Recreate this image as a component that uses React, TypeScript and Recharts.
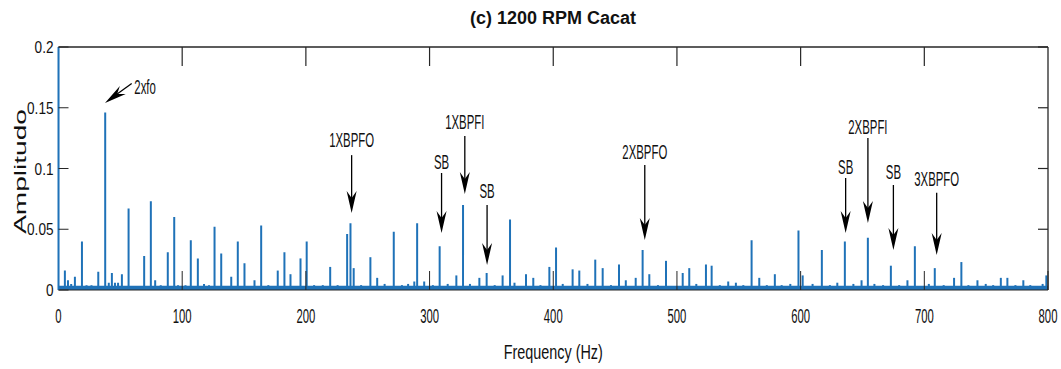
import React from 'react';
import { ComposedChart, Bar, XAxis, YAxis, ReferenceLine, ReferenceDot, ReferenceArea } from 'recharts';

// spectrum peaks (Hz, amplitude)
const peakFreq = [
  0, 5.5, 8, 10.6, 13.6, 19.3, 23, 27, 32.5, 38.1, 41, 43.5, 46, 48.5, 51.6, 57, 63, 69.6, 75, 78.5,
  83, 88.7, 93.9, 97, 103, 107.3, 113, 118, 122, 126.5, 131.9, 140, 145.3, 150.7, 158.8, 164.2, 170,
  177.6, 183, 187.9, 196, 201, 207, 214, 220, 226, 233.7, 236.4, 239, 245, 252.5, 258, 264, 271.4,
  278, 283, 288, 290.3, 296, 303, 308.5, 315, 322, 327.4, 333, 340.6, 346.5, 353, 359.4, 365.4, 369,
  378.3, 384.2, 390, 397.2, 402.6, 408, 416, 421.4, 428, 434.3, 440.3, 447, 453.5, 459, 467, 472.6,
  478, 485, 491.5, 505, 510.3, 516, 523.8, 528.4, 535, 541.8, 548, 554, 560.7, 566.9, 573, 579.5, 585,
  592, 598.6, 602, 610, 617.5, 624, 630, 636.1, 643, 649.6, 654.7, 660, 667, 673.3, 680, 686.7, 692.7,
  704, 708.8, 716, 724.4, 730.3, 736, 743.3, 750, 756, 762.2, 767.5, 774, 780.4, 786, 791, 796, 799,
];
const peakAmp = [
  0.2, 0.016, 0.008, 0.005, 0.011, 0.04, 0.004, 0.004, 0.015, 0.146, 0.006, 0.014, 0.006, 0.006, 0.013, 0.067, 0.003, 0.028, 0.073, 0.008,
  0.004, 0.031, 0.06, 0.004, 0.004, 0.041, 0.026, 0.005, 0.004, 0.052, 0.03, 0.011, 0.04, 0.022, 0.008, 0.053, 0.004,
  0.016, 0.031, 0.013, 0.026, 0.04, 0.004, 0.004, 0.019, 0.004, 0.046, 0.055, 0.018, 0.004, 0.027, 0.01, 0.005, 0.048,
  0.004, 0.005, 0.007, 0.055, 0.007, 0.004, 0.036, 0.005, 0.012, 0.07, 0.005, 0.01, 0.014, 0.004, 0.012, 0.058, 0.006,
  0.013, 0.01, 0.004, 0.019, 0.035, 0.005, 0.017, 0.016, 0.005, 0.025, 0.018, 0.004, 0.021, 0.008, 0.01, 0.033,
  0.013, 0.004, 0.024, 0.014, 0.018, 0.005, 0.021, 0.02, 0.004, 0.007, 0.006, 0.004, 0.041, 0.01, 0.004, 0.013, 0.004,
  0.005, 0.049, 0.012, 0.005, 0.033, 0.004, 0.006, 0.04, 0.005, 0.008, 0.043, 0.005, 0.004, 0.02, 0.004, 0.008, 0.036,
  0.005, 0.018, 0.004, 0.01, 0.023, 0.004, 0.008, 0.005, 0.004, 0.01, 0.01, 0.004, 0.008, 0.004, 0.003, 0.005, 0.012,
];
const noiseFloor = 0.0035;

const xTicks = [0, 100, 200, 300, 400, 500, 600, 700, 800];
const yTicks = [0, 0.05, 0.1, 0.15, 0.2];
const yTickLabels = ['0', '0.05', '0.1', '0.15', '0.2'];

// annotations: label, label position, arrow tail, arrow tip
const noteText = ['2xfo', '1XBPFO', 'SB', '1XBPFI', 'SB', '2XBPFO', 'SB', '2XBPFI', 'SB', '3XBPFO'];
const noteFreq = [70, 237, 309.7, 328.5, 346.5, 474, 636.4, 654.4, 675, 710];
const noteAmp = [0.167, 0.1235, 0.1056, 0.1385, 0.0815, 0.1138, 0.1015, 0.1344, 0.0974, 0.0914];
const tailFreq = [59.2, 237, 309.7, 328.5, 346.5, 474, 636.4, 654.4, 675, 710];
const tailAmp = [0.17, 0.111, 0.0963, 0.1267, 0.07, 0.1029, 0.0922, 0.1252, 0.0864, 0.0801];
const tipFreq = [37.6, 237, 309.7, 328.5, 346.5, 474, 636.4, 654.4, 675, 710];
const tipAmp = [0.154, 0.0634, 0.0469, 0.079, 0.0206, 0.0412, 0.0469, 0.0551, 0.0329, 0.0288];

const FONT = "'Liberation Sans', Arial, Helvetica, sans-serif";
const BLUE = '#1f72b8';
const AXIS = '#262626';
const X_MAX = 800;
const Y_MAX = 0.2;

// layout
const W = 1061;
const H = 369;
const M_TOP = 47;
const M_RIGHT = 13;
const X_AXIS_H = 79;
const Y_AXIS_W = 58.5;

const data = peakFreq.map((f, i) => ({ f, a: peakAmp[i] }));

const Squeezed = ({ x, y, sx = 1, size, anchor = 'middle', weight = 'normal', rotate = 0, children }: any) => (
  <text
    transform={`translate(${x},${y}) rotate(${rotate}) scale(${sx},1)`}
    fontSize={size}
    fontFamily={FONT}
    fontWeight={weight}
    textAnchor={anchor}
    fill="#111"
  >
    {children}
  </text>
);

const XTick = ({ x, y, payload }: any) => (
  <Squeezed x={x} y={y + 28} size={19.5} sx={0.58}>{payload.value}</Squeezed>
);

const YTick = ({ x, y, index }: any) => (
  <Squeezed x={x} y={y + 6} size={17} sx={0.8} anchor="end">{yTickLabels[index]}</Squeezed>
);

// top and right edges of the MATLAB box, with inward ticks, laid over the chart
const BoxFrame = () => {
  const left = Y_AXIS_W;
  const right = W - M_RIGHT;
  const top = M_TOP;
  const bottom = H - X_AXIS_H;
  const width = right - left;
  const height = bottom - top;
  return (
    <svg
      width={W}
      height={H}
      style={{ position: 'absolute', left: 0, top: 0, pointerEvents: 'none' }}
    >
      <line x1={left} y1={top} x2={right} y2={top} stroke={AXIS} strokeWidth={1.3} />
      <line x1={right} y1={top} x2={right} y2={bottom} stroke={AXIS} strokeWidth={1.3} />
      {xTicks.slice(1, -1).map((t) => {
        const tx = left + (width * t) / X_MAX;
        return <line key={`tt-${t}`} x1={tx} y1={top} x2={tx} y2={top + 19} stroke={AXIS} strokeWidth={1.2} />;
      })}
      {yTicks.slice(1).map((t) => {
        const ty = bottom - (height * t) / Y_MAX;
        return <line key={`rt-${t}`} x1={right} y1={ty} x2={right - 10} y2={ty} stroke={AXIS} strokeWidth={1.2} />;
      })}
    </svg>
  );
};

const Arrow = ({ x1, y1, x2, y2 }: any) => {
  const dx = x2 - x1;
  const dy = y2 - y1;
  const len = Math.sqrt(dx * dx + dy * dy) || 1;
  const ux = dx / len;
  const uy = dy / len;
  const head = 22;
  const half = 5;
  const bx = x2 - ux * head;
  const by = y2 - uy * head;
  const nx = x2 - ux * (head - 7);
  const ny = y2 - uy * (head - 7);
  const pts = [
    `${x2},${y2}`,
    `${bx - uy * half},${by + ux * half}`,
    `${nx},${ny}`,
    `${bx + uy * half},${by - ux * half}`,
  ].join(' ');
  return (
    <g>
      <line x1={x1} y1={y1} x2={nx} y2={ny} stroke="#000" strokeWidth={1.3} />
      <polygon points={pts} fill="#000" />
    </g>
  );
};

const noteShape = (label: string) => (p: any) => (
  <Squeezed x={p.cx} y={p.cy + 7} size={20} sx={0.57}>{label}</Squeezed>
);

export default function App() {
  return (
    <div style={{ position: 'absolute', left: 0, top: 0, width: W, height: H, background: '#fff' }}>
      <ComposedChart width={W} height={H} data={data} margin={{ top: M_TOP, right: M_RIGHT, bottom: 0, left: 0 }}>
        <XAxis
          dataKey="f"
          type="number"
          domain={[0, X_MAX]}
          ticks={xTicks}
          allowDataOverflow
          height={X_AXIS_H}
          stroke={AXIS}
          tickSize={-19}
          tickMargin={24}
          tick={<XTick />}
          label={{
            content: ({ viewBox }: any) => (
              <Squeezed x={viewBox.x + viewBox.width / 2} y={viewBox.y + 69} size={20} sx={0.72}>
                Frequency (Hz)
              </Squeezed>
            ),
          }}
        />
        <YAxis
          type="number"
          domain={[0, Y_MAX]}
          ticks={yTicks}
          allowDataOverflow
          width={Y_AXIS_W}
          axisLine={{ stroke: BLUE, strokeWidth: 2 }}
          tickLine={{ stroke: AXIS }}
          tickSize={-10}
          tickMargin={15}
          tick={<YTick />}
          label={{
            content: ({ viewBox }: any) => (
              <g>
                <Squeezed x={26} y={viewBox.y + viewBox.height / 2 + 3} size={16.5} sx={1.7} rotate={-90}>
                  Amplitudo
                </Squeezed>
                <Squeezed x={553} y={24} size={18} sx={1} weight="bold">
                  (c) 1200 RPM Cacat
                </Squeezed>
              </g>
            ),
          }}
        />
        <ReferenceArea x1={0} x2={X_MAX} y1={0} y2={noiseFloor} fill={BLUE} fillOpacity={1} stroke="none" />
        <Bar dataKey="a" fill={BLUE} barSize={2} isAnimationActive={false} />
        {noteText.map((t, i) => (
          <ReferenceLine
            key={`arrow-${i}`}
            segment={[
              { x: tailFreq[i], y: tailAmp[i] },
              { x: tipFreq[i], y: tipAmp[i] },
            ]}
            shape={Arrow}
          />
        ))}
        {noteText.map((t, i) => (
          <ReferenceDot key={`note-${i}`} x={noteFreq[i]} y={noteAmp[i]} r={0} shape={noteShape(t)} />
        ))}
      </ComposedChart>
      <BoxFrame />
    </div>
  );
}
